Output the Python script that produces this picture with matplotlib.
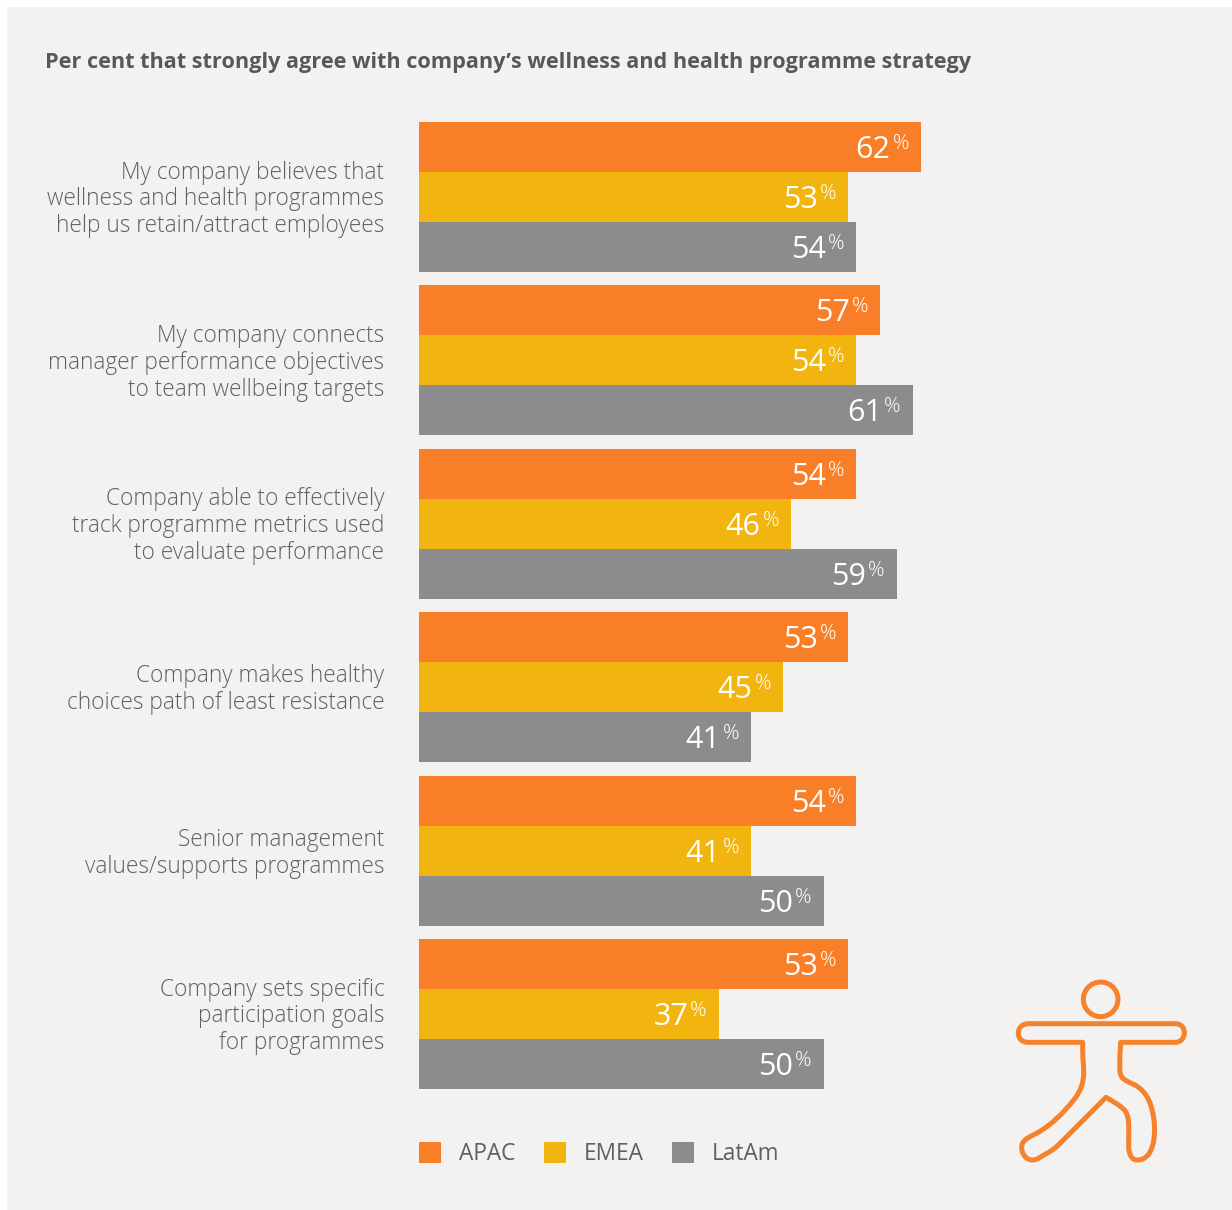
import matplotlib
matplotlib.use("Agg")
import matplotlib.pyplot as plt
from matplotlib.patches import Rectangle, Circle, PathPatch
from matplotlib.path import Path
from matplotlib.transforms import Affine2D, ScaledTranslation

plt.rcParams["font.family"] = ["Open Sans", "Noto Sans", "DejaVu Sans"]

title = "Per cent that strongly agree with company\u2019s wellness and health programme strategy"
categories = [
    "My company believes that\nwellness and health programmes\nhelp us retain/attract employees",
    "My company connects\nmanager performance objectives\nto team wellbeing targets",
    "Company able to effectively\ntrack programme metrics used\nto evaluate performance",
    "Company makes healthy\nchoices path of least resistance",
    "Senior management\nvalues/supports programmes",
    "Company sets specific\nparticipation goals\nfor programmes",
]
apac = [62, 57, 54, 53, 54, 53]
emea = [53, 54, 46, 45, 41, 37]
latam = [54, 61, 59, 41, 50, 50]
series_names = ["APAC", "EMEA", "LatAm"]
series_values = [apac, emea, latam]
series_colors = ["#F87F28", "#F2B50F", "#8C8C8E"]

W, H = 1232, 1210
TEXT = "#58585A"
LIGHT_TEXT = "#606062"
fig = plt.figure(figsize=(W / 100, H / 100), dpi=100, facecolor="white")

# Pixel-space helper: origin at the top-left of the figure
px = Affine2D().scale(1 / W, -1 / H).translate(0, 1) + fig.transFigure

fig.add_artist(Rectangle((7, 7), W - 7, 1203, transform=px, facecolor="#F3F2F0", edgecolor="none", zorder=-5))
fig.text(45, 68, title, transform=px, fontsize=15.62, fontweight="bold", color=TEXT, ha="left", va="baseline")

# Bar axes: 8.095 px per percentage point, 163.4 px per group
px_per_unit = 8.095
pitch = 163.4
x0 = 419
ax_w = 90 * px_per_unit
y_top = 197 - pitch / 2
y_bot = y_top + pitch * 6
ax = fig.add_axes([x0 / W, 1 - y_bot / H, ax_w / W, (y_bot - y_top) / H])
ax.patch.set_alpha(0)
ax.set_xlim(0, 90)
ax.set_ylim(5.5, -0.5)
for s in ax.spines.values():
    s.set_visible(False)
ax.xaxis.set_visible(False)
ax.set_yticks(range(len(categories)))
ax.set_yticklabels(categories, fontsize=16.3, color=LIGHT_TEXT, linespacing=1.165, ha="right", fontweight="light")
ax.tick_params(axis="y", length=0, pad=25)
lift = ScaledTranslation(0, 2 / 100, fig.dpi_scale_trans)
for lab in ax.get_yticklabels():
    lab.set_transform(lab.get_transform() + lift)

bar_h = 50 / pitch
for k, (name, vals, col) in enumerate(zip(series_names, series_values, series_colors)):
    ys = [i + (k - 1) * bar_h for i in range(len(vals))]
    ax.barh(ys, vals, height=bar_h, color=col, label=name, linewidth=0)
    for y, v in zip(ys, vals):
        ax.annotate(str(v), (v, y), xytext=(-30.5, -11), textcoords="offset pixels",
                    ha="right", va="baseline", fontsize=22, color="white")
        ax.annotate("%", (v, y), xytext=(-12, -2), textcoords="offset pixels",
                    ha="right", va="baseline", fontsize=14.8, color="white", fontweight="light")

fs = 16.3
em = fs * 100 / 72
leg = ax.legend(loc="center left", ncol=3, frameon=False, fontsize=fs, labelcolor=LIGHT_TEXT,
                handlelength=22 / em, handleheight=23 / em, handletextpad=18 / em,
                columnspacing=28.5 / em, borderpad=0, borderaxespad=0)
leg.set_bbox_to_anchor((x0 / W, 1 - 1154 / H), transform=fig.transFigure)

# Figure icon, traced as a closed outline in pixel space
ox, oy, sc = 1000, 970, 1 / 3
body = [
    (Path.MOVETO, (85, 161)), (Path.LINETO, (525, 161)),
    (Path.CURVE4, (545, 161)), (Path.CURVE4, (553, 175)), (Path.CURVE4, (553, 188)),
    (Path.CURVE4, (553, 205)), (Path.CURVE4, (542, 217)), (Path.CURVE4, (525, 217)),
    (Path.LINETO, (362, 217)),
    (Path.CURVE4, (360, 250)), (Path.CURVE4, (358, 280)), (Path.CURVE4, (360, 305)),
    (Path.CURVE4, (362, 330)), (Path.CURVE4, (385, 335)), (Path.CURVE4, (405, 345)),
    (Path.CURVE4, (445, 368)), (Path.CURVE4, (455, 405)), (Path.CURVE4, (462, 450)),
    (Path.CURVE4, (468, 500)), (Path.CURVE4, (460, 570)), (Path.CURVE4, (412, 570)),
    (Path.CURVE4, (395, 570)), (Path.CURVE4, (387, 555)), (Path.CURVE4, (386, 530)),
    (Path.CURVE4, (385, 490)), (Path.CURVE4, (392, 445)), (Path.CURVE4, (375, 422)),
    (Path.CURVE4, (360, 405)), (Path.CURVE4, (335, 392)), (Path.CURVE4, (318, 382)),
    (Path.LINETO, (175, 525)),
    (Path.CURVE4, (155, 545)), (Path.CURVE4, (130, 555)), (Path.CURVE4, (115, 565)),
    (Path.CURVE4, (90, 580)), (Path.CURVE4, (65, 560)), (Path.CURVE4, (65, 532)),
    (Path.CURVE4, (65, 515)), (Path.CURVE4, (78, 505)), (Path.CURVE4, (100, 495)),
    (Path.CURVE4, (150, 470)), (Path.CURVE4, (190, 430)), (Path.CURVE4, (225, 385)),
    (Path.CURVE4, (255, 345)), (Path.CURVE4, (252, 310)), (Path.CURVE4, (250, 280)),
    (Path.CURVE4, (248, 260)), (Path.CURVE4, (248, 240)), (Path.CURVE4, (248, 217)),
    (Path.LINETO, (85, 217)),
    (Path.CURVE4, (65, 217)), (Path.CURVE4, (55, 205)), (Path.CURVE4, (55, 190)),
    (Path.CURVE4, (55, 172)), (Path.CURVE4, (68, 161)), (Path.CURVE4, (85, 161)),
    (Path.CLOSEPOLY, (85, 161)),
]
codes = [c for c, _ in body]
verts = [(ox + x * sc, oy + y * sc) for _, (x, y) in body]
fig.add_artist(PathPatch(Path(verts, codes), transform=px, facecolor="none",
                         edgecolor="#F6822B", linewidth=3.6, joinstyle="round"))
fig.add_artist(Circle((ox + 302 * sc, oy + 88 * sc), 17.3, transform=px, facecolor="none",
                      edgecolor="#F6822B", linewidth=3.6))

fig.savefig("out.png", dpi=100)
